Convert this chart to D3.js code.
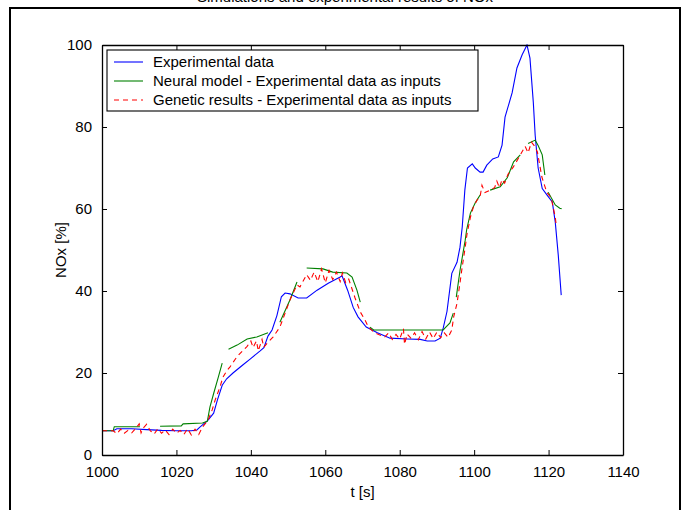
<!DOCTYPE html>
<html>
<head>
<meta charset="utf-8">
<script src="https://cdn.jsdelivr.net/npm/d3@7"></script>
<style>
  html, body { margin: 0; padding: 0; background: #fff; }
  svg { display: block; }
  text { font-family: "Liberation Sans", Arial, Helvetica, sans-serif; fill: #000; }
</style>
</head>
<body>
<svg id="chart" width="691" height="510"></svg>
<script>
// NOx response over time: measured data, neural model and genetic-algorithm results.
// Each point is [t (s), NOx (%)]; null marks a break in the trace.

const experimental = [
  [1000,5.9],[1003,5.9],[1004,6.4],[1008,6.4],[1012,6.2],[1016,6.0],[1020,5.9],[1024,5.9],
  [1025.5,6.1],[1026.3,6.8],[1028.5,8.5],[1030,10.2],[1031,13.4],[1032.3,17],[1033.5,18.6],
  [1035.2,20],[1037.9,22],[1039.8,23.4],[1042.5,25.4],[1043.5,26.2],[1044.6,29],[1045.7,30.5],
  [1047,34],[1048.2,38.6],[1049.2,39.5],[1050.5,39.3],[1052.7,38.3],[1055,38.3],[1057.8,40.2],
  [1060.8,41.9],[1064,43.4],[1064.5,43.7],[1066,40.2],[1067.5,36],[1068.8,33.7],[1071,31.2],
  [1074,29.8],[1077.4,28.5],[1082,28.3],[1085.5,28.2],[1087.4,27.8],[1089.5,27.8],[1090.9,28.5],
  [1091.7,31],[1092.7,35],[1094,44.3],[1095.4,47],[1096.2,50.7],[1096.8,55.6],[1097.5,64.6],
  [1098.2,70],[1099.5,71],[1100.3,70],[1101.6,69],[1102.4,69],[1103.4,70.7],[1105,72.2],
  [1106.5,72.7],[1107.5,75.6],[1108.3,82.4],[1110.2,88.3],[1111.5,94.4],[1112.9,97.6],
  [1114.2,100],[1115,96.8],[1115.9,86],[1116.4,78],[1117.2,70],[1118.3,65],[1119.6,63.4],
  [1121,61.7],[1121.8,56.8],[1122.6,48.8],[1123.4,39]
];

const neuralModel = [
  [1000,5.9],[1003,5.9],[1003.3,6.9],[1010.2,6.9], null,
  [1015.6,7.0],[1021.3,7.1],[1021.8,7.6],[1027,7.8],[1028.3,8.2],[1029,11.7],[1030,15],
  [1031.2,18.8],[1032.3,22.4], null,
  [1034,25.8],[1036.3,26.8],[1039,28.3],[1041.6,28.8],[1044.6,29.8], null,
  [1047.8,32.4],[1050.5,37.8],[1052.4,42.2], null,
  [1055,45.6],[1059.4,45.4],[1062,44.6],[1065.8,44.4],[1067.2,43.4],[1068.5,40.2],[1069.4,37.3], null,
  [1072,31.2],[1073,30.5],[1091.7,30.5],[1092.2,31],[1093.5,32.2],[1094.4,34.6], null,
  [1095.2,38.5],[1096.2,45],[1097.6,52.4],[1098,55],[1099,59],[1100.3,61.5],[1101.6,63.4], null,
  [1104.3,64.6],[1107,65.4],[1108.9,67.6],[1110.6,71.5],[1112.4,73.2], null,
  [1114.5,76],[1116.4,76.8],[1117.2,75.5],[1118.3,73.2],[1119,68.3], null,
  [1119.9,64.1],[1121.8,61],[1123,60.2],[1123.5,60.1]
];

const geneticResults = [
  [1000,5.9],[1003,5.9],[1004,5.2],[1005,6.3],[1006,5.3],[1007,6.0],[1008,5.4],[1009,6.4],
  [1010,7.6],[1010.5,5.4],[1011,6.5],[1012,7.5],[1013,5.9],[1014,5.1],[1015,6.4],[1016,5.3],
  [1017,6.1],[1018,5.0],[1019,6.3],[1020,5.3],[1021,6.0],[1022,5.0],[1023,6.4],[1024,4.9],
  [1025,6.3],[1026,5.0],[1027,6.8],[1028.5,8.5],[1029.6,11],[1030.4,13.4],[1031.7,16.6],
  [1032.5,19],[1033.5,20.5],[1034.4,21.5],[1036.3,24],[1038,25.6],[1039,26.5],[1040,27.8],
  [1040.6,26.2],[1041.5,27.8],[1042,25.4],[1043,28.2],[1043.5,26.3],[1044.4,27.3],[1046,28.8],
  [1047.8,31.2],[1049.2,34.6],[1050.5,37.8],[1052.4,41.5],[1053.2,41],[1055,44],[1056,42.6],
  [1057,44.6],[1058,42.3],[1059,45.4],[1060,42.0],[1061,45.0],[1062,42.8],[1063,44.6],[1064,42.3],
  [1064.6,44.4],[1065.5,42.0],[1066.3,42.9],[1067,41],[1068,38.3],[1069.4,34.9],[1070.7,32.9],
  [1071.6,31.2],[1073,30],[1074.5,29.3],[1076,28.8],[1077,29.8],[1078,28.2],[1079,29.4],
  [1080,28.3],[1081,30.8],[1081.3,27.0],[1082,29.5],[1083,28.5],[1084,29.8],[1085,28.1],
  [1086,30.1],[1087,28.3],[1088,30.0],[1089,28.4],[1090,30.0],[1091,28.6],[1092,29.8],
  [1093,28.7],[1094,30.5],[1094.5,33.7],[1095.4,37],[1096.2,42],[1096.8,45.9],[1097.6,50.7],
  [1098.1,54],[1099,58],[1099.8,60.5],[1100.8,62.2],[1101.6,63],[1102.1,65.8],[1102.9,64.0],
  [1104.3,64.6],[1105.5,65.2],[1106.1,66.8],[1106.8,65.2],[1107.5,67.2],[1108.2,66.3],
  [1109.1,68.5],[1110.5,70.2],[1112.1,72.7],[1113.7,75.3],[1114.5,73.7],[1115.4,76.3],
  [1116.2,75.4],[1117,73.9],[1118.2,67.8],[1119.5,64.1],[1120.7,62.7],[1121.8,58],[1122,56.5]
];

const xTicks = [1000, 1020, 1040, 1060, 1080, 1100, 1120, 1140];
const yTicks = [0, 20, 40, 60, 80, 100];

const seriesNames = [
  "Experimental data",
  "Neural model - Experimental data as inputs",
  "Genetic results - Experimental data as inputs"
];
const seriesColors = ["#0000ff", "#008000", "#ff0000"];
const seriesDash = [null, null, "5,4"];

const chartTitle = "Simulations and experimental results of NOx";
const xLabel = "t [s]";
const yLabel = "NOx [%]";

// ---- layout ----
const svg = d3.select("#chart");
const plot = { left: 102, right: 623, top: 45, bottom: 455 };

const x = d3.scaleLinear().domain([1000, 1140]).range([plot.left, plot.right]);
const y = d3.scaleLinear().domain([0, 100]).range([plot.bottom, plot.top]);

// figure frame
svg.append("rect")
  .attr("x", 10).attr("y", 8)
  .attr("width", 670).attr("height", 520)
  .attr("fill", "none").attr("stroke", "#000").attr("stroke-width", 2);

// title (sits mostly above the frame, only its lower edge shows)
svg.append("text")
  .attr("x", 345).attr("y", 2)
  .attr("text-anchor", "middle")
  .style("font-size", "15px")
  .text(chartTitle);

// ---- data lines ----
const clipId = "plotClip";
svg.append("clipPath").attr("id", clipId)
  .append("rect")
  .attr("x", plot.left).attr("y", plot.top - 1)
  .attr("width", plot.right - plot.left).attr("height", plot.bottom - plot.top + 1);

const line = d3.line()
  .defined(d => d !== null)
  .x(d => x(d[0]))
  .y(d => y(d[1]));

const allSeries = [experimental, neuralModel, geneticResults];
const lines = svg.append("g").attr("clip-path", `url(#${clipId})`);
allSeries.forEach((data, i) => {
  lines.append("path")
    .datum(data)
    .attr("fill", "none")
    .attr("stroke", seriesColors[i])
    .attr("stroke-width", 1.1)
    .attr("stroke-dasharray", seriesDash[i])
    .attr("d", line);
});

// ---- axes (ticks inward on all four sides, boxed) ----
const tickLen = 5;
const axisFont = "15px";

const gx = svg.append("g").attr("transform", `translate(0,${plot.bottom})`)
  .call(d3.axisBottom(x).tickValues(xTicks).tickFormat(d3.format("d"))
    .tickSizeInner(-tickLen).tickSizeOuter(0).tickPadding(11));
const gxTop = svg.append("g").attr("transform", `translate(0,${plot.top})`)
  .call(d3.axisTop(x).tickValues(xTicks).tickFormat("")
    .tickSizeInner(-tickLen).tickSizeOuter(0));
const gy = svg.append("g").attr("transform", `translate(${plot.left},0)`)
  .call(d3.axisLeft(y).tickValues(yTicks).tickFormat(d3.format("d"))
    .tickSizeInner(-tickLen).tickSizeOuter(0).tickPadding(10));
const gyRight = svg.append("g").attr("transform", `translate(${plot.right},0)`)
  .call(d3.axisRight(y).tickValues(yTicks).tickFormat("")
    .tickSizeInner(-tickLen).tickSizeOuter(0));

[gx, gxTop, gy, gyRight].forEach(g => {
  g.select(".domain").attr("stroke", "#000").attr("stroke-width", 1.3);
  g.selectAll(".tick line").attr("stroke", "#000").attr("stroke-width", 1);
  g.selectAll(".tick text")
    .style("font-size", axisFont)
    .style("font-family", "'Liberation Sans', Arial, sans-serif")
    .attr("fill", "#000");
});

// axis labels
svg.append("text")
  .attr("x", x(1070)).attr("y", 497)
  .attr("text-anchor", "middle")
  .style("font-size", "15px")
  .text(xLabel);

svg.append("text")
  .attr("transform", `translate(66,${y(50)}) rotate(-90)`)
  .attr("text-anchor", "middle")
  .style("font-size", "15px")
  .text(yLabel);

// ---- legend ----
const legend = svg.append("g");
legend.append("rect")
  .attr("x", 107).attr("y", 50)
  .attr("width", 371).attr("height", 61)
  .attr("fill", "#fff").attr("stroke", "#000").attr("stroke-width", 1.1);

const legendRows = [62, 81, 100];
seriesNames.forEach((name, i) => {
  const yy = legendRows[i];
  legend.append("line")
    .attr("x1", 114).attr("x2", 143)
    .attr("y1", yy).attr("y2", yy)
    .attr("stroke", seriesColors[i])
    .attr("stroke-width", 1.1)
    .attr("stroke-dasharray", seriesDash[i]);
  legend.append("text")
    .attr("x", 153).attr("y", yy + 5)
    .style("font-size", "15px")
    .text(name);
});
</script>
</body>
</html>
